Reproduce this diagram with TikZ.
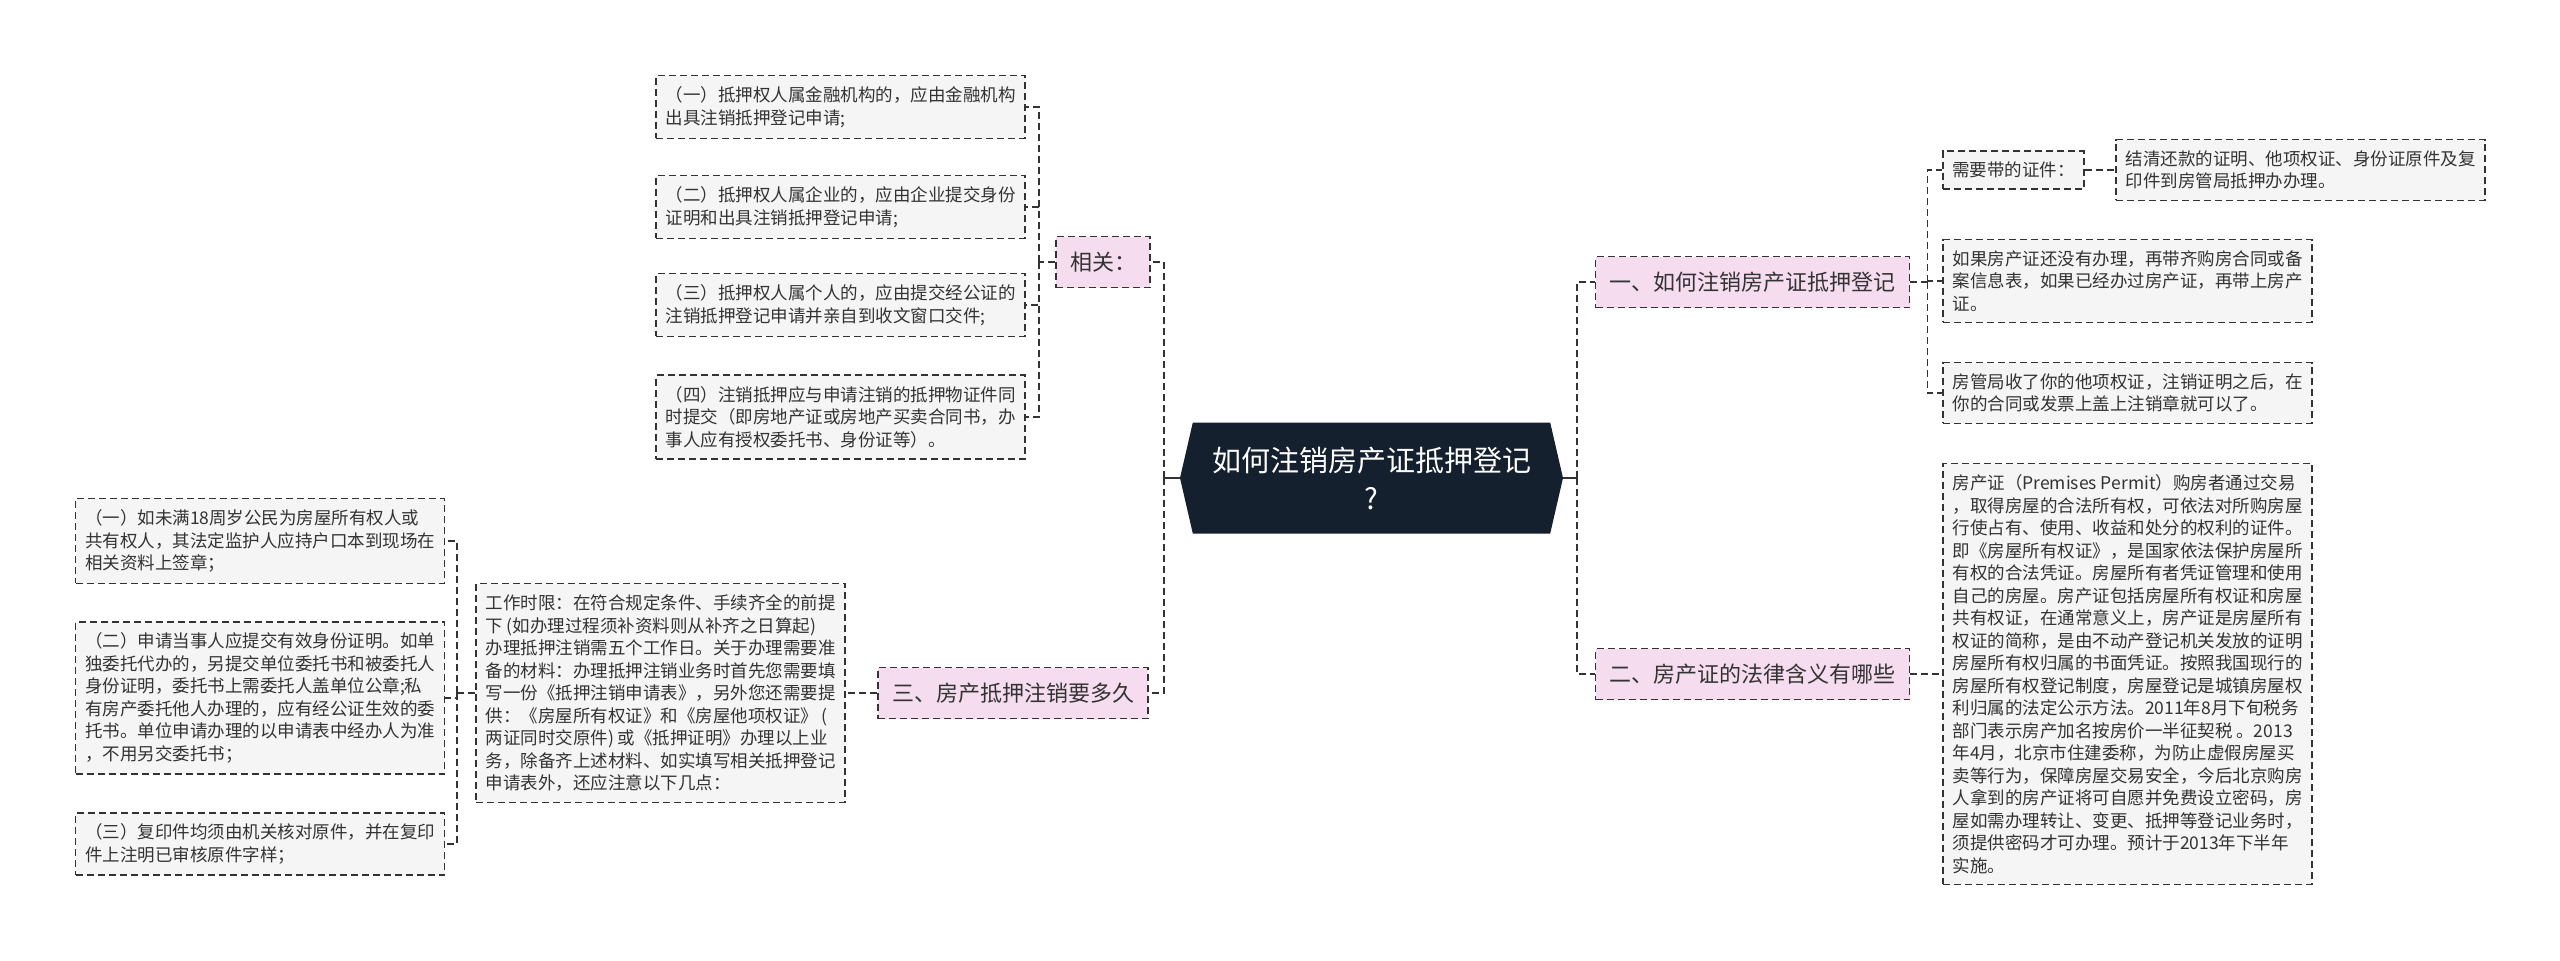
\documentclass[tikz,border=0pt]{standalone}
\usepackage{fontspec}
\setmainfont{Noto Sans CJK SC}
\usetikzlibrary{shapes.symbols}
\usepackage{xcolor}
\definecolor{rootfill}{HTML}{15202E}
\definecolor{branchfill}{HTML}{F5DCEF}
\definecolor{leaffill}{HTML}{F5F5F5}
\definecolor{linegray}{HTML}{333333}

\begin{document}
\begin{tikzpicture}
[x=1pt, y=-1pt,
 RootNode/.style={signal, signal to=east and west, signal pointer angle=154,
    fill=rootfill, text=white, minimum width=383, minimum height=111,
    font=\fontsize{29}{38}\selectfont, align=center, inner sep=0pt},
 BranchNode/.style={rectangle,
    draw=linegray, fill=branchfill, line width=1.6pt, dash pattern=on 7pt off 4pt,
    text=linegray, font=\fontsize{22}{26}\selectfont,
    inner xsep=14pt, minimum height=51},
 LeafNode/.style={rectangle,
    draw=linegray, fill=leaffill, line width=1.6pt, dash pattern=on 7pt off 4pt,
    text=linegray, font=\fontsize{17.5}{22.5}\selectfont, align=left,
    inner xsep=9pt, inner ysep=11pt, minimum width=369},
 Link/.style={draw=linegray, line width=1.6pt, dash pattern=on 7pt off 4pt}]
\fill[white] (0,0) rectangle (2560,961);
\useasboundingbox (0,0) rectangle (2560,961);

\node[RootNode] (root) at (1371.5,478) {如何注销房产证抵押登记\\?};

\node[BranchNode] (xg) at (1103,262) {相关：};
\node[BranchNode] (s3) at (1013,693) {三、房产抵押注销要多久};
\node[BranchNode] (s1) at (1752.5,282) {一、如何注销房产证抵押登记};
\node[BranchNode] (s2) at (1752.5,674) {二、房产证的法律含义有哪些};

\node[LeafNode] (a1) at (840.5,107) {（一）抵押权人属金融机构的，应由金融机构\\出具注销抵押登记申请;};
\node[LeafNode] (a2) at (840.5,207) {（二）抵押权人属企业的，应由企业提交身份\\证明和出具注销抵押登记申请;};
\node[LeafNode] (a3) at (840.5,305) {（三）抵押权人属个人的，应由提交经公证的\\注销抵押登记申请并亲自到收文窗口交件;};
\node[LeafNode] (a4) at (840.5,417) {（四）注销抵押应与申请注销的抵押物证件同\\时提交（即房地产证或房地产买卖合同书，办\\事人应有授权委托书、身份证等）。};

\node[LeafNode] (c) at (660.5,693) {工作时限：在符合规定条件、手续齐全的前提\\下 (如办理过程须补资料则从补齐之日算起)\\办理抵押注销需五个工作日。关于办理需要准\\备的材料：办理抵押注销业务时首先您需要填\\写一份《抵押注销申请表》，另外您还需要提\\供：《房屋所有权证》和《房屋他项权证》 (\\两证同时交原件) 或《抵押证明》办理以上业\\务，除备齐上述材料、如实填写相关抵押登记\\申请表外，还应注意以下几点：};

\node[LeafNode] (b1) at (260,541) {（一）如未满18周岁公民为房屋所有权人或\\共有权人，其法定监护人应持户口本到现场在\\相关资料上签章；};
\node[LeafNode] (b2) at (260,698) {（二）申请当事人应提交有效身份证明。如单\\独委托代办的，另提交单位委托书和被委托人\\身份证明，委托书上需委托人盖单位公章;私\\有房产委托他人办理的，应有经公证生效的委\\托书。单位申请办理的以申请表中经办人为准\\，不用另交委托书；};
\node[LeafNode] (b3) at (260,844) {（三）复印件均须由机关核对原件，并在复印\\件上注明已审核原件字样；};

\node[LeafNode, minimum width=0] (d1) at (2013.5,170) {需要带的证件：};
\node[LeafNode] (d1c) at (2300.5,170) {结清还款的证明、他项权证、身份证原件及复\\印件到房管局抵押办办理。};
\node[LeafNode] (d2) at (2127.5,281) {如果房产证还没有办理，再带齐购房合同或备\\案信息表，如果已经办过房产证，再带上房产\\证。};
\node[LeafNode] (d3) at (2127.5,393) {房管局收了你的他项权证，注销证明之后，在\\你的合同或发票上盖上注销章就可以了。};

\node[LeafNode] (e1) at (2127.5,674) {房产证（Premises Permit）购房者通过交易\\，取得房屋的合法所有权，可依法对所购房屋\\行使占有、使用、收益和处分的权利的证件。\\即《房屋所有权证》，是国家依法保护房屋所\\有权的合法凭证。房屋所有者凭证管理和使用\\自己的房屋。房产证包括房屋所有权证和房屋\\共有权证，在通常意义上，房产证是房屋所有\\权证的简称，是由不动产登记机关发放的证明\\房屋所有权归属的书面凭证。按照我国现行的\\房屋所有权登记制度，房屋登记是城镇房屋权\\利归属的法定公示方法。2011年8月下旬税务\\部门表示房产加名按房价一半征契税 。2013\\年4月，北京市住建委称，为防止虚假房屋买\\卖等行为，保障房屋交易安全，今后北京购房\\人拿到的房产证将可自愿并免费设立密码，房\\屋如需办理转让、变更、抵押等登记业务时，\\须提供密码才可办理。预计于2013年下半年\\实施。};

\coordinate (hubL) at ([xshift=-16pt]root.west);
\coordinate (hubR) at ([xshift=14pt]root.east);
\draw[linegray, line width=1.6pt] (root.west) -- (hubL);
\draw[linegray, line width=1.6pt] (root.east) -- (hubR);
\foreach \n in {xg,s3}
    \draw[Link] (hubL) |- (\n.east);
\foreach \n in {s1,s2}
    \draw[Link] (hubR) |- (\n.west);

\coordinate (xgJ) at ([xshift=-16pt]xg.west);
\draw[Link] (xg.west) -- (xgJ);
\foreach \n in {a1,a2,a3,a4}
    \draw[Link] (xgJ) |- (\n.east);

\draw[Link] (s3.west) -- (c.east);
\coordinate (cJ) at ([xshift=-18pt]c.west);
\draw[Link] (c.west) -- (cJ);
\foreach \n in {b1,b2,b3}
    \draw[Link] (cJ) |- (\n.east);

\coordinate (s1J) at ([xshift=17pt]s1.east);
\draw[Link] (s1.east) -- (s1J);
\foreach \n in {d1,d2,d3}
    \draw[Link] (s1J) |- (\n.west);
\draw[Link] (d1.east) -- (d1c.west);

\draw[Link] (s2.east) -- (e1.west);
\end{tikzpicture}
\end{document}
